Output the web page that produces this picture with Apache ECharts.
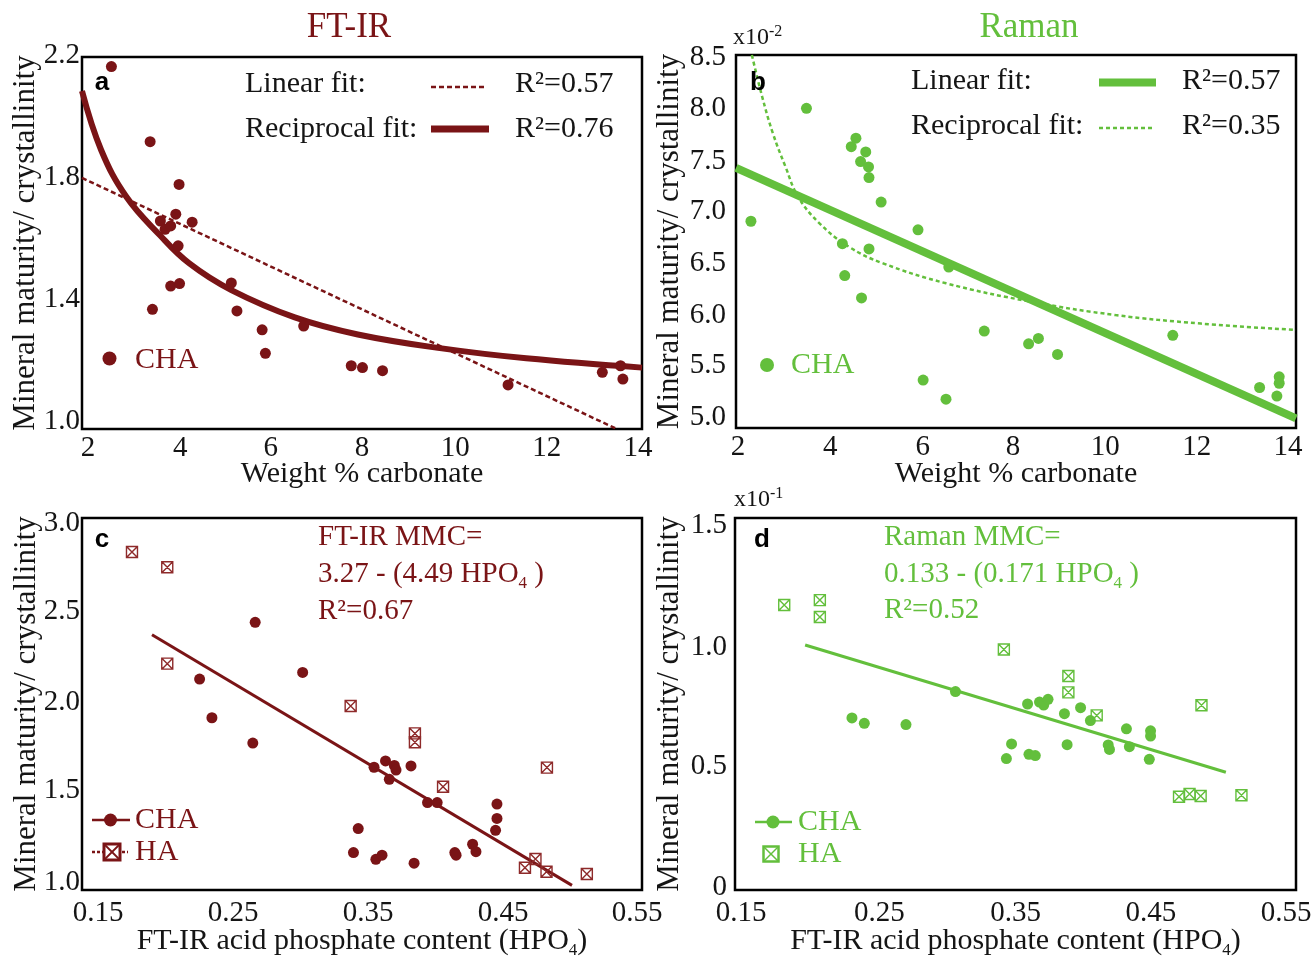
<!DOCTYPE html>
<html>
<head>
<meta charset="utf-8">
<title>Mineral maturity vs carbonate and acid phosphate</title>
<script src="https://cdn.jsdelivr.net/npm/echarts@6/dist/echarts.min.js"></script>
<style>
  html, body { margin: 0; padding: 0; background: #ffffff; }
  #chart { width: 1313px; height: 958px; }
</style>
</head>
<body>
<div id="chart"></div>
<script>
// ---- colours ----
const FTIR_RED = '#7a1416';
const RAMAN_GREEN = '#63bf3c';
const INK = '#151515';
const SERIF = '"Liberation Serif", "Times New Roman", serif';

// ---- tick labels ----
const carbonateTicks = [2, 4, 6, 8, 10, 12, 14];
const ftirMmcTicksA = [1.0, 1.4, 1.8, 2.2];
const ramanMmcTicksB = [0.050, 0.055, 0.060, 0.065, 0.070, 0.075, 0.080, 0.085]; // shown x10^-2
const hpo4Ticks = [0.15, 0.25, 0.35, 0.45, 0.55];
const ftirMmcTicksC = [1.0, 1.5, 2.0, 2.5, 3.0];
const ramanMmcTicksD = [0, 0.05, 0.10, 0.15]; // shown x10^-1

// ---- (a) FT-IR MMC vs weight % carbonate, CHA ----
const ftirCarbonate = [2.63, 3.46, 4.08, 4.01, 4.36, 3.68, 3.78, 3.90, 4.06, 3.90, 4.09, 3.51,
  5.20, 5.32, 5.86, 5.93, 6.75, 7.77, 8.01, 8.44, 11.13, 13.15, 13.54, 13.59];
const ftirMmcA = [2.169, 1.927, 1.789, 1.693, 1.667, 1.671, 1.644, 1.655, 1.591, 1.461, 1.469, 1.386,
  1.471, 1.381, 1.320, 1.244, 1.332, 1.204, 1.198, 1.188, 1.142, 1.183, 1.204, 1.161];
// linear fit (R^2 = 0.57), end points
const ftirLinearX = [2.0, 13.46];
const ftirLinearY = [1.810, 1.0];
// reciprocal fit (R^2 = 0.76), points along the curve
const ftirRecipX = [2.0, 2.41, 2.95, 3.67, 4.30, 5.20, 6.56, 7.91, 9.71, 11.52, 14.0];
const ftirRecipY = [2.090, 1.900, 1.749, 1.625, 1.534, 1.448, 1.360, 1.305, 1.260, 1.228, 1.198];

// ---- (b) Raman MMC vs weight % carbonate, CHA ----
const ramanCarbonate = [2.32, 3.51, 4.57, 4.47, 4.78, 4.67, 4.84, 4.85, 5.11, 5.90, 4.28, 4.85, 6.56,
  4.33, 4.69, 7.32, 8.27, 8.48, 8.89, 11.36, 6.01, 6.50, 13.22, 13.64, 13.64, 13.59];
const ramanMmcB = [0.0694, 0.0800, 0.0772, 0.0764, 0.0759, 0.0750, 0.0745, 0.0735, 0.0712, 0.0686, 0.0673,
  0.0668, 0.0651, 0.0643, 0.0622, 0.0591, 0.0579, 0.0584, 0.0569, 0.0587, 0.0545, 0.0527, 0.0538,
  0.0548, 0.0542, 0.0530];
// linear fit (R^2 = 0.57), end points
const ramanLinearX = [2.0, 14.0];
const ramanLinearY = [0.0744, 0.0509];
// reciprocal fit (R^2 = 0.35), points along the curve
const ramanRecipX = [2.34, 2.56, 2.79, 3.06, 3.33, 3.79, 4.42, 5.15, 6.50, 8.32, 10.13, 11.96, 14.0];
const ramanRecipY = [0.0850, 0.0811, 0.07765, 0.07452, 0.0717, 0.0692, 0.0670, 0.06545, 0.06358,
  0.06185, 0.0606, 0.0598, 0.0592];

// ---- (c) FT-IR MMC vs FT-IR acid phosphate ----
const hpo4ChaC = [0.2737, 0.2340, 0.3076, 0.2428, 0.2720, 0.3586, 0.3668, 0.3731, 0.3743, 0.3695, 0.3850,
  0.3968, 0.4037, 0.4464, 0.4464, 0.4454, 0.3473, 0.3439, 0.3599, 0.3643, 0.3872, 0.4163, 0.4172,
  0.4290, 0.4314];
const ftirMmcChaC = [2.439, 2.134, 2.170, 1.926, 1.790, 1.660, 1.694, 1.670, 1.645, 1.595, 1.667,
  1.470, 1.470, 1.462, 1.385, 1.321, 1.330, 1.201, 1.165, 1.187, 1.144, 1.201, 1.187, 1.246, 1.206];
const hpo4HaC = [0.1857, 0.2109, 0.2109, 0.3419, 0.3878, 0.3878, 0.4079, 0.4821, 0.4739, 0.4664, 0.4818, 0.5106];
const ftirMmcHaC = [2.817, 2.735, 2.217, 1.989, 1.842, 1.794, 1.555, 1.658, 1.167, 1.120, 1.098, 1.086];
// FT-IR MMC = 3.27 - (4.49 HPO4)
const ftirIntercept = 3.27;
const ftirSlope = 4.49;
const ftirFitRange = [0.20, 0.50];

// ---- (d) Raman MMC vs FT-IR acid phosphate ----
const hpo4ChaD = [0.3072, 0.2334, 0.2422, 0.2719, 0.3586, 0.3671, 0.3701, 0.3732, 0.3849, 0.3964, 0.4034,
  0.4291, 0.4463, 0.4463, 0.4161, 0.4170, 0.4312, 0.4454, 0.3472, 0.3435, 0.3596, 0.3641, 0.3868];
const ramanMmcChaD = [0.0800, 0.0694, 0.0672, 0.0667, 0.0750, 0.0758, 0.0746, 0.0769, 0.0711, 0.0735,
  0.0683, 0.0650, 0.0642, 0.0621, 0.0585, 0.0567, 0.0578, 0.0527, 0.0589, 0.0530, 0.0547, 0.0542, 0.0586];
const hpo4HaD = [0.1851, 0.2105, 0.2105, 0.3417, 0.3877, 0.3877, 0.4079, 0.4826, 0.4666, 0.4741, 0.4820, 0.5111];
const ramanMmcHaD = [0.1149, 0.1169, 0.1101, 0.0970, 0.0863, 0.0797, 0.0704, 0.0745, 0.0376, 0.0387, 0.0379, 0.0382];
// Raman MMC = 0.133 - (0.171 HPO4)
const ramanIntercept = 0.133;
const ramanSlope = 0.171;
const ramanFitRange = [0.20, 0.50];

// ---- helpers ----
const zip = (xs, ys) => xs.map((x, i) => [x, ys[i]]);
const fitLine = (range, a, b) => range.map(x => [x, a - b * x]);
const HA_SYMBOL = 'path://M0,0L10,0L10,10L0,10Z M0,0L10,10 M10,0L0,10';

// Tick labels sit a little inside the frame ends; each label gets a small
// nudge (px; x: + is right, y: + is down) applied as rich-text padding.
function tickLabel(values, fmt, margin, nudges, horizontal) {
  const rich = {};
  nudges.forEach((d, i) => {
    const p = [0, 0, 0, 0];
    const s = Math.abs(d) * 2;
    if (horizontal) { if (d > 0) p[3] = s; else p[1] = s; }
    else { if (d > 0) p[0] = s; else p[2] = s; }
    rich['n' + i] = { fontFamily: SERIF, fontSize: 29, color: INK, padding: p };
  });
  return {
    customValues: values, margin: margin,
    color: INK, fontFamily: SERIF, fontSize: 29,
    formatter: v => {
      const i = values.findIndex(t => Math.abs(t - v) < 1e-9);
      return i < 0 ? fmt(v) : '{n' + i + '|' + fmt(v) + '}';
    },
    rich: rich
  };
}
const nameStyle = {
  color: INK, fontFamily: SERIF, fontSize: 30, lineHeight: 36,
  rich: { sub: { fontFamily: SERIF, fontSize: 17, lineHeight: 17, verticalAlign: 'bottom', color: INK } }
};
const bare = {
  type: 'value', axisLine: { show: false }, axisTick: { show: false }, splitLine: { show: false },
  nameMoveOverlap: false
};
function xAxis(grid, min, max, ticks, fmt, nudges, name, gap, margin) {
  return Object.assign({}, bare, {
    gridIndex: grid, min: min, max: max,
    axisLabel: tickLabel(ticks, fmt, margin, nudges, true),
    name: name, nameLocation: 'middle', nameGap: gap, nameTextStyle: nameStyle
  });
}
function yAxis(grid, min, max, ticks, fmt, nudges, gap, margin) {
  return Object.assign({}, bare, {
    gridIndex: grid, min: min, max: max,
    axisLabel: tickLabel(ticks, fmt, margin, nudges, false),
    name: 'Mineral maturity/ crystallinity', nameLocation: 'middle', nameGap: gap,
    nameRotate: 90, nameTextStyle: Object.assign({}, nameStyle, { fontSize: 31 })
  });
}
const intFmt = v => String(v);
const fix1 = v => v.toFixed(1);
const fix2 = v => v.toFixed(2);

// ---- text and key graphics ----
function txt(x, y, text, font, color, align, extra) {
  return {
    type: 'text', x: x, y: y, z: 50,
    style: Object.assign({
      text: text, font: font, fill: color,
      textAlign: align || 'left', textVerticalAlign: 'middle'
    }, extra || {})
  };
}
function seg(x1, y1, x2, y2, color, width, dash, z) {
  return {
    type: 'line', z: z || 50, shape: { x1: x1, y1: y1, x2: x2, y2: y2 },
    style: { stroke: color, lineWidth: width, lineDash: dash || null }
  };
}
function dot(cx, cy, r, color) {
  return { type: 'circle', z: 51, shape: { cx: cx, cy: cy, r: r }, style: { fill: color } };
}
function haBox(cx, cy, size, color, width) {
  const h = size / 2;
  return [
    { type: 'rect', z: 51, shape: { x: cx - h, y: cy - h, width: size, height: size },
      style: { fill: '#ffffff', stroke: color, lineWidth: width } },
    seg(cx - h, cy - h, cx + h, cy + h, color, width * 0.6, null, 52),
    seg(cx + h, cy - h, cx - h, cy + h, color, width * 0.6, null, 52)
  ];
}
const F30 = '30px ' + SERIF;
const F29 = '29px ' + SERIF;
const PANEL = 'bold 26px "Liberation Sans", Arial, sans-serif';
const subRich = (color) => ({
  sub: { font: '17px ' + SERIF, fill: color, lineHeight: 17, verticalAlign: 'bottom' }
});
const supRich = {
  sup: { font: '16px ' + SERIF, fill: INK, lineHeight: 14, verticalAlign: 'top' }
};

const graphics = [
  // titles
  txt(349, 28, 'FT-IR', '35px ' + SERIF, FTIR_RED, 'center'),
  txt(1029, 28, 'Raman', '35px ' + SERIF, RAMAN_GREEN, 'center'),
  // axis multipliers
  txt(733, 38, 'x10{sup|-2}', '24px ' + SERIF, INK, 'left', { rich: supRich, lineHeight: 28 }),
  txt(734, 500, 'x10{sup|-1}', '24px ' + SERIF, INK, 'left', { rich: supRich, lineHeight: 28 }),
  // panel letters
  txt(102, 83, 'a', PANEL, '#000', 'center'),
  txt(758, 83, 'b', PANEL, '#000', 'center'),
  txt(102, 540, 'c', PANEL, '#000', 'center'),
  txt(762, 540, 'd', PANEL, '#000', 'center'),

  // (a) fit key
  txt(245, 84, 'Linear fit:', F30, INK),
  seg(431, 87, 487, 87, FTIR_RED, 2.5, [5, 3]),
  txt(515, 84, 'R²=0.57', F30, INK),
  txt(245, 129, 'Reciprocal fit:', F30, INK),
  seg(431, 129, 489, 129, FTIR_RED, 7),
  txt(515, 129, 'R²=0.76', F30, INK),
  dot(109.5, 358.5, 7, FTIR_RED),
  txt(135, 360, 'CHA', F30, FTIR_RED),

  // (b) fit key
  txt(911, 81, 'Linear fit:', F30, INK),
  seg(1099, 82.5, 1156, 82.5, RAMAN_GREEN, 8),
  txt(1182, 81, 'R²=0.57', F30, INK),
  txt(911, 126, 'Reciprocal fit:', F30, INK),
  seg(1099, 128, 1153, 128, RAMAN_GREEN, 2.5, [4, 3]),
  txt(1182, 126, 'R²=0.35', F30, INK),
  dot(767, 365, 7, RAMAN_GREEN),
  txt(791, 365, 'CHA', F30, RAMAN_GREEN),

  // (c) equation and key
  txt(318, 537, 'FT-IR MMC=', F29, FTIR_RED),
  txt(318, 574, '3.27 - (4.49 HPO{sub|4} )', F29, FTIR_RED, 'left', { rich: subRich(FTIR_RED), lineHeight: 36 }),
  txt(318, 611, 'R²=0.67', F29, FTIR_RED),
  seg(92, 820, 130, 820, FTIR_RED, 2.5),
  dot(110.5, 820, 6.5, FTIR_RED),
  txt(135, 820, 'CHA', F30, FTIR_RED),
  seg(92, 852, 128, 852, FTIR_RED, 2.5, [3, 2]),
  ...haBox(112, 852, 16, FTIR_RED, 3),
  txt(135, 852, 'HA', F30, FTIR_RED),

  // (d) equation and key
  txt(884, 537, 'Raman MMC=', F29, RAMAN_GREEN),
  txt(884, 574, '0.133 - (0.171 HPO{sub|4} )', F29, RAMAN_GREEN, 'left', { rich: subRich(RAMAN_GREEN), lineHeight: 36 }),
  txt(884, 610, 'R²=0.52', F29, RAMAN_GREEN),
  seg(755, 822, 792, 822, RAMAN_GREEN, 2.5),
  dot(773, 822, 6.5, RAMAN_GREEN),
  txt(798, 822, 'CHA', F30, RAMAN_GREEN),
  ...haBox(771, 854, 15, RAMAN_GREEN, 2.5),
  txt(798, 854, 'HA', F30, RAMAN_GREEN)
];

// ---- chart ----
const gridStyle = {
  show: true, borderColor: '#000000', borderWidth: 2.5, backgroundColor: 'transparent',
  containLabel: false, outerBoundsMode: 'none'
};
const option = {
  animation: false,
  backgroundColor: '#ffffff',
  grid: [
    Object.assign({ left: 82, top: 57, width: 560, height: 372 }, gridStyle),
    Object.assign({ left: 736, top: 55, width: 560, height: 373 }, gridStyle),
    Object.assign({ left: 82, top: 518, width: 560, height: 372 }, gridStyle),
    Object.assign({ left: 735, top: 518, width: 561, height: 372 }, gridStyle)
  ],
  xAxis: [
    xAxis(0, 2, 14, carbonateTicks, intFmt, [6, 5, 2, 0, 0, -2, -4], 'Weight % carbonate', 27, 5),
    xAxis(1, 2, 14, carbonateTicks, intFmt, [2, 1, 0, -3, -4, -6, -8], 'Weight % carbonate', 28, 5),
    xAxis(2, 0.15, 0.55, hpo4Ticks, fix2, [16, 11, 6, 1, -5], 'FT-IR acid phosphate content (HPO{sub|4})', 33, 9),
    xAxis(3, 0.15, 0.55, hpo4Ticks, fix2, [6, 4, 0, -5, -10], 'FT-IR acid phosphate content (HPO{sub|4})', 33, 9)
  ],
  yAxis: [
    yAxis(0, 1.0, 2.2, ftirMmcTicksA, fix1, [-8, -6, -4, -2], 38, 2),
    yAxis(1, 0.05, 0.085, ramanMmcTicksB, v => (v * 100).toFixed(1), [-11, -9, -6, -5, -3, 0, 0, 2], 48, 10),
    yAxis(2, 1.0, 3.0, ftirMmcTicksC, fix1, [-8, -7, -2, 0, 5], 37, 2),
    yAxis(3, 0, 0.15, ramanMmcTicksD, v => (v === 0 ? '0' : (v * 10).toFixed(1)), [-3, 0, 5, 7], 47, 8)
  ],
  series: [
    // (a)
    { type: 'line', name: 'Linear fit', xAxisIndex: 0, yAxisIndex: 0, data: zip(ftirLinearX, ftirLinearY),
      symbol: 'none', lineStyle: { color: FTIR_RED, width: 2.5, type: [5, 3] }, z: 3 },
    { type: 'line', name: 'Reciprocal fit', xAxisIndex: 0, yAxisIndex: 0, data: zip(ftirRecipX, ftirRecipY),
      symbol: 'none', smooth: 0.4, lineStyle: { color: FTIR_RED, width: 6 }, z: 3 },
    { type: 'scatter', name: 'CHA', xAxisIndex: 0, yAxisIndex: 0, data: zip(ftirCarbonate, ftirMmcA),
      symbolSize: 11, itemStyle: { color: FTIR_RED, opacity: 1 }, z: 5 },
    // (b)
    { type: 'line', name: 'Linear fit', xAxisIndex: 1, yAxisIndex: 1, data: zip(ramanLinearX, ramanLinearY),
      symbol: 'none', lineStyle: { color: RAMAN_GREEN, width: 8 }, z: 3 },
    { type: 'line', name: 'Reciprocal fit', xAxisIndex: 1, yAxisIndex: 1, data: zip(ramanRecipX, ramanRecipY),
      symbol: 'none', smooth: 0.4, lineStyle: { color: RAMAN_GREEN, width: 2.5, type: [4, 3] }, z: 3 },
    { type: 'scatter', name: 'CHA', xAxisIndex: 1, yAxisIndex: 1, data: zip(ramanCarbonate, ramanMmcB),
      symbolSize: 11, itemStyle: { color: RAMAN_GREEN, opacity: 1 }, z: 5 },
    // (c)
    { type: 'line', name: 'FT-IR MMC fit', xAxisIndex: 2, yAxisIndex: 2,
      data: fitLine(ftirFitRange, ftirIntercept, ftirSlope),
      symbol: 'none', lineStyle: { color: FTIR_RED, width: 3 }, z: 3 },
    { type: 'scatter', name: 'CHA', xAxisIndex: 2, yAxisIndex: 2, data: zip(hpo4ChaC, ftirMmcChaC),
      symbolSize: 11, itemStyle: { color: FTIR_RED, opacity: 1 }, z: 5 },
    { type: 'scatter', name: 'HA', xAxisIndex: 2, yAxisIndex: 2, data: zip(hpo4HaC, ftirMmcHaC),
      symbol: HA_SYMBOL, symbolSize: 11,
      itemStyle: { color: 'rgba(255,255,255,0)', borderColor: '#8e2a2a', borderWidth: 1.4, opacity: 1 }, z: 5 },
    // (d)
    { type: 'line', name: 'Raman MMC fit', xAxisIndex: 3, yAxisIndex: 3,
      data: fitLine(ramanFitRange, ramanIntercept, ramanSlope),
      symbol: 'none', lineStyle: { color: RAMAN_GREEN, width: 3 }, z: 3 },
    { type: 'scatter', name: 'CHA', xAxisIndex: 3, yAxisIndex: 3, data: zip(hpo4ChaD, ramanMmcChaD),
      symbolSize: 11, itemStyle: { color: RAMAN_GREEN, opacity: 1 }, z: 5 },
    { type: 'scatter', name: 'HA', xAxisIndex: 3, yAxisIndex: 3, data: zip(hpo4HaD, ramanMmcHaD),
      symbol: HA_SYMBOL, symbolSize: 11,
      itemStyle: { color: 'rgba(255,255,255,0)', borderColor: RAMAN_GREEN, borderWidth: 1.4, opacity: 1 }, z: 5 }
  ],
  graphic: graphics
};

const chart = echarts.init(document.getElementById('chart'), null, { renderer: 'canvas' });
chart.setOption(option);
</script>
</body>
</html>
